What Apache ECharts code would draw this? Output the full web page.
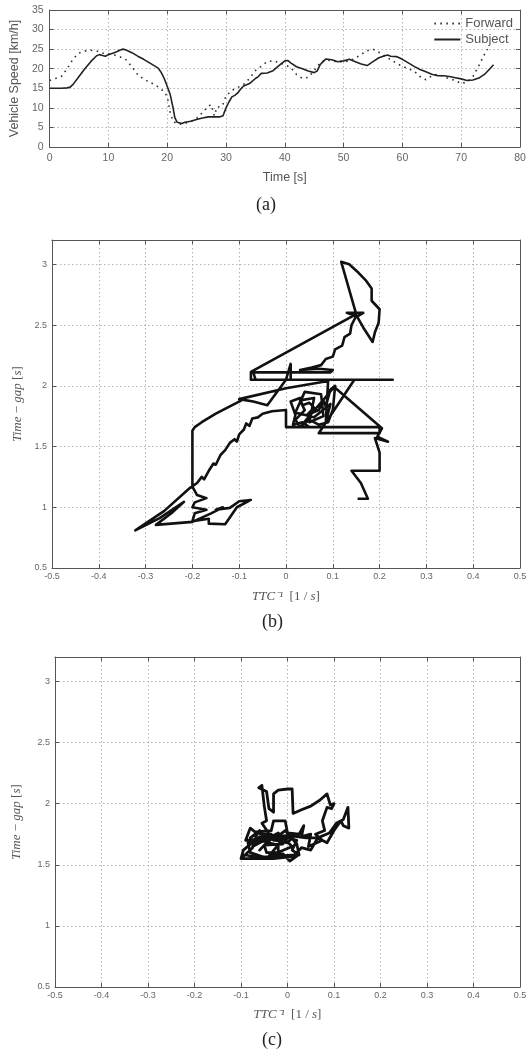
<!DOCTYPE html>
<html><head><meta charset="utf-8">
<script src="https://cdn.jsdelivr.net/npm/echarts@6/dist/echarts.min.js"></script>
<style>html,body{margin:0;padding:0;background:#fff}#c{width:531px;height:1057px}</style>
</head><body><div id="c"></div>
<script>
// ---------- DATA ----------
// (a) vehicle speed
var timeTicks = [0, 10, 20, 30, 40, 50, 60, 70, 80];
var speedTicks = [0, 5, 10, 15, 20, 25, 30, 35];
var timeSubject = [0,1,2,3,3.5,4,5,6,7,8,8.5,9,9.5,10,10.5,11,11.5,12,12.5,13,14,15,16,17,18,18.5,19,19.5,20,20.5,21,21.3,21.7,22,22.5,23,24,25,26,27,28,29,29.5,30,30.5,31,31.5,32,32.5,33,34,35,35.5,36,37,38,39,40,40.5,41,42,43,44,45,45.5,46,46.5,47,48,49,50,51,52,53,54,55,56,57,57.5,58,59,60,61,62,63,64,65,66,67,68,69,70,71,72,73,74,75,75.5];
var speedSubject = [15,15,15,15.1,15.3,16,18,20,21.8,23.3,23.6,23.4,23.2,23.6,23.8,24.1,24.4,24.8,25,24.8,24.1,23.2,22.4,21.5,20.6,20.1,19,17.5,15.5,13.5,10,7.5,6.3,6,6,6.3,6.6,7,7.4,7.7,7.7,7.7,8,10,11.5,12.8,13.2,13.8,14.8,15.6,16.2,17.5,18,18.8,18.9,19.5,20.8,22,22.1,21.5,20.5,20,19.4,19,19.4,21,21.8,22.5,22.3,21.8,22,22.4,21.8,21.2,20.8,21.8,22.8,23.3,23.5,23.2,23.1,22.4,21.5,20.6,19.8,19.2,18.6,18.2,18.2,18,17.7,17.4,17,17.1,17.6,18.6,20.2,21];
var timeForward = [0,1,2,3,4,5,6,7,8,9,10,11,12,13,14,15,16,17,18,19,20,20.5,21,22,23,24,25,26,27,27.5,28,28.5,29,29.5,30,31,32,33,34,35,36,37,38,39,40,41,42,43,44,45,46,47,48,49,50,51,52,53,54,55,56,57,58,59,60,61,62,63,64,65,66,67,68,69,70,71,72,73,74,74.5];
var speedForward = [17,17.5,18,20,22.5,24,24.5,24.7,24.5,24,23.8,23.5,23,22.3,20.5,18.5,17.3,16.6,15.8,14.8,13,9,6.5,5.8,6,6.5,7.3,8.8,10.5,10.8,8,10.3,10.2,11,13,14.5,15.2,16,17.5,19.5,20.6,21.8,22,21.6,21,20.3,18.5,17.5,17.8,19.5,21.5,22.3,22,21.8,21.8,22,22.7,23.7,24.6,25,24.2,23.3,22.3,21.4,20.6,20,19.4,18,17.2,18.2,18.6,18,17.4,17,16.2,16.6,18,20.8,23.8,25];

// (b), (c) inverse TTC vs time gap
var ttcTicks = [-0.5, -0.4, -0.3, -0.2, -0.1, 0, 0.1, 0.2, 0.3, 0.4, 0.5];
var gapTicks = [0.5, 1, 1.5, 2, 2.5, 3];
var gapTop = 3.2;

var ttcInvB = [
 -0.095,-0.12,-0.15,-0.18,-0.195,-0.2,-0.2,-0.2,
 -0.19,-0.17,-0.195,-0.2,-0.17,-0.195,-0.2,
 -0.165,-0.165,-0.13,-0.105,-0.075,-0.1,-0.12,-0.15,-0.135,-0.16,-0.2,
 -0.278,-0.245,-0.218,-0.27,-0.322,-0.26,-0.205,
 -0.19,-0.18,-0.175,-0.165,-0.155,-0.15,-0.14,-0.13,-0.12,-0.11,-0.105,-0.1,-0.09,-0.085,-0.078,-0.072,-0.06,-0.05,-0.03,0,
 0,0.05,0.035,0.015,0.02,0.01,0.03,0.035,0.05,0.06,0.045,0.07,0.08,0.085,0.095,0.105,0.1,0.09,0.07,0.05,0.03,
 0.02,0.04,0.03,0.06,0.05,0.08,0.075,0.04,0.02,0.06,0.095,0.085,
 0.09,0,-0.1,-0.07,-0.04,0,0.01,0.01,-0.075,-0.075,
 0.15,0.118,0.135,0.155,0.17,0.183,0.183,0.2,0.198,0.19,0.185,0.165,0.152,0.13,0.165,0.148,
 0.14,0.137,0.125,0.12,0.105,0.1,0.085,0.075,0.055,0.03,0.07,0.1,0.095,0.04,-0.07,-0.065,0.228,0.146,
 0.07,0.2,0.2,0.03,0.103,0.205,0.195,0.218,0.19,0.2,0.2,0.14,0.16,0.175,0.153
];
var timeGapB = [
 1.88,1.83,1.77,1.70,1.66,1.63,1.40,1.17,
 1.10,1.075,1.04,1.0,0.98,0.95,0.885,
 0.905,0.865,0.86,1.0,1.06,1.05,0.995,0.98,1.0,0.95,0.88,
 0.855,0.95,1.045,0.91,0.81,0.97,1.16,
 1.2,1.25,1.23,1.3,1.36,1.35,1.43,1.47,1.53,1.56,1.54,1.6,1.64,1.69,1.67,1.73,1.74,1.77,1.79,1.80,
 1.66,1.66,1.70,1.68,1.76,1.87,1.90,1.84,1.86,1.82,1.76,1.80,1.88,1.83,1.97,2.0,1.8,1.70,1.68,1.72,1.66,
 1.72,1.80,1.88,1.90,1.70,1.75,1.93,1.95,1.78,1.74,1.85,1.70,
 2.04,1.98,1.89,1.87,1.84,2.05,2.18,2.05,2.05,2.115,
 2.59,3.02,3.0,2.93,2.87,2.80,2.70,2.63,2.52,2.44,2.36,2.48,2.57,2.60,2.60,2.56,
 2.50,2.43,2.40,2.33,2.30,2.24,2.22,2.17,2.15,2.13,2.14,2.13,2.11,2.11,2.11,2.05,2.05,2.05,
 1.61,1.61,1.66,1.66,1.99,1.65,1.58,1.54,1.57,1.45,1.30,1.30,1.2,1.07,1.07
];

var ttcInvC = [
 -0.1,-0.07,-0.03,0.02,0.005,-0.01,-0.05,-0.08,-0.085,-0.07,-0.095,-0.1,
 -0.075,-0.065,-0.08,-0.06,-0.05,-0.035,-0.04,-0.02,-0.02,-0.045,-0.05,-0.01,0,0.02,0.01,0.025,0.02,-0.005,-0.025,-0.06,
 -0.07,-0.04,-0.06,-0.03,-0.065,-0.01,-0.04,0.01,-0.02,-0.075,-0.05,0.0,0.015,-0.03,
 -0.055,-0.045,-0.05,-0.055,-0.062,-0.045,-0.04,-0.03,-0.03,-0.02,0,0.01,0.012,0.03,0.05,0.07,0.085,0.092,0.1,0.095,0.085,0.075,0.08,0.06,0.075,0.045,0.05,0.03,0.035,0.025,0,-0.005,-0.03,-0.035,-0.07,-0.08,-0.09,-0.06,0,0.04,0.065,0.09,0.105,0.12,0.13,0.132,0.12,0.115,0.1,0.085,0.065,0.05,0.03,0.015,-0.02,-0.065,-0.09
];
var timeGapC = [
 1.55,1.55,1.55,1.57,1.53,1.59,1.56,1.60,1.68,1.70,1.62,1.55,
 1.64,1.76,1.72,1.78,1.74,1.75,1.68,1.66,1.60,1.60,1.66,1.67,1.72,1.70,1.62,1.58,1.67,1.78,1.72,1.73,
 1.68,1.70,1.62,1.74,1.76,1.71,1.57,1.65,1.76,1.65,1.72,1.68,1.74,1.70,
 1.84,1.86,1.98,2.15,2.13,2.10,1.96,1.93,2.08,2.11,2.12,2.12,1.92,1.95,1.98,2.03,2.08,1.99,2.0,1.96,1.97,1.86,1.78,1.75,1.70,1.65,1.75,1.73,1.82,1.75,1.76,1.86,1.86,1.78,1.77,1.80,1.70,1.71,1.74,1.72,1.72,1.76,1.84,1.87,1.97,1.80,1.82,1.86,1.78,1.68,1.72,1.62,1.64,1.58,1.57,1.56,1.58
];

// ---------- CHART ----------
function zip(a, b) { var n = Math.min(a.length, b.length), r = []; for (var i = 0; i < n; i++) r.push([a[i], b[i]]); return r; }
function fmt(v) { return String(Math.round(v * 10) / 10); }

var SANS = "'Liberation Sans', Arial, sans-serif";
var SERIF = "'Liberation Serif', 'Times New Roman', serif";
var AX = '#555', GRIDC = '#b4b4b4', LBL = '#666';

var grids = [
  { left: 44, top: 10, width: 476, height: 137 },
  { left: 52, top: 240, width: 468, height: 328 },
  { left: 55, top: 657, width: 465, height: 330 }
];

function baseAxis(gi, ticks, max, pos, withLabels, lblSize, lblMargin, name, nameGap, nameStyle) {
  var ax = {
    type: 'value', gridIndex: gi, position: pos,
    min: ticks[0], max: max, interval: ticks[1] - ticks[0],
    axisLine: { show: true, onZero: false, lineStyle: { color: AX, width: 1 } },
    axisTick: { show: true, inside: true, length: 4, lineStyle: { color: AX } },
    axisLabel: { show: withLabels, fontFamily: SANS, fontSize: lblSize, color: LBL, margin: lblMargin,
                 formatter: fmt, showMaxLabel: max === ticks[ticks.length - 1] },
    splitLine: { show: withLabels, lineStyle: { color: GRIDC, type: [1.5, 2.5], width: 1 } }
  };
  if (name) {
    ax.name = name; ax.nameLocation = 'middle'; ax.nameGap = nameGap; ax.nameTextStyle = nameStyle;
  }
  return ax;
}

var nameSansA = { fontFamily: SANS, fontSize: 12.5, color: '#555' };
var serifName = { fontFamily: SERIF, fontSize: 13, color: '#555',
  rich: { i: { fontFamily: SERIF, fontStyle: 'italic', fontSize: 13, color: '#555' } } };
var gapName = '{i|Time} − {i|gap} [{i|s}]';
var ttcName = '{i|TTC⁻¹}  [1 / {i|s}]';

var xAxes = [
  baseAxis(0, timeTicks, timeTicks[timeTicks.length - 1], 'bottom', true, 10.5, 6, 'Time [s]', 24, nameSansA),
  baseAxis(0, timeTicks, timeTicks[timeTicks.length - 1], 'top', false),
  baseAxis(1, ttcTicks, ttcTicks[ttcTicks.length - 1], 'bottom', true, 9, 4, ttcName, 22, serifName),
  baseAxis(1, ttcTicks, ttcTicks[ttcTicks.length - 1], 'top', false),
  baseAxis(2, ttcTicks, ttcTicks[ttcTicks.length - 1], 'bottom', true, 9, 4, ttcName, 21, serifName),
  baseAxis(2, ttcTicks, ttcTicks[ttcTicks.length - 1], 'top', false)
];
var yAxes = [
  baseAxis(0, speedTicks, speedTicks[speedTicks.length - 1], 'left', true, 10.5, 6, 'Vehicle Speed [km/h]', 26, nameSansA),
  baseAxis(0, speedTicks, speedTicks[speedTicks.length - 1], 'right', false),
  baseAxis(1, gapTicks, gapTop, 'left', true, 9, 5, gapName, 28, serifName),
  baseAxis(1, gapTicks, gapTop, 'right', false),
  baseAxis(2, gapTicks, gapTop, 'left', true, 9, 5, gapName, 32, serifName),
  baseAxis(2, gapTicks, gapTop, 'right', false)
];

var capStyle = { fontFamily: SERIF, fontSize: 18, fontWeight: 'normal', color: '#222' };

var option = {
  animation: false,
  backgroundColor: '#fff',
  grid: grids,
  xAxis: xAxes,
  yAxis: yAxes,
  title: [
    { text: '(a)', left: 256, top: 196, padding: 0, textStyle: capStyle },
    { text: '(b)', left: 262, top: 613, padding: 0, textStyle: capStyle },
    { text: '(c)', left: 262, top: 1031, padding: 0, textStyle: capStyle }
  ],
  legend: {
    orient: 'vertical', right: 13, top: 12, itemWidth: 26, itemHeight: 10, itemGap: 3,
    itemStyle: { opacity: 0 },
    textStyle: { fontFamily: SANS, fontSize: 13, color: '#555' },
    data: ['Forward', 'Subject']
  },
  series: [
    { name: 'Forward', type: 'line', xAxisIndex: 0, yAxisIndex: 0, data: zip(timeForward, speedForward),
      symbol: 'none', lineStyle: { color: '#333', width: 1.6, type: [1.6, 4.4] }, itemStyle: { color: '#333' } },
    { name: 'Subject', type: 'line', xAxisIndex: 0, yAxisIndex: 0, data: zip(timeSubject, speedSubject),
      symbol: 'none', lineStyle: { color: '#222', width: 1.6 }, itemStyle: { color: '#222' } },
    { name: 'b', type: 'line', xAxisIndex: 2, yAxisIndex: 2, data: zip(ttcInvB, timeGapB),
      symbol: 'none', lineStyle: { color: '#111', width: 2.6, join: 'round' }, itemStyle: { color: '#111' } },
    { name: 'c', type: 'line', xAxisIndex: 4, yAxisIndex: 4, data: zip(ttcInvC, timeGapC),
      symbol: 'none', lineStyle: { color: '#111', width: 2.8, join: 'round' }, itemStyle: { color: '#111' } }
  ]
};

var chart = echarts.init(document.getElementById('c'), null, { renderer: 'canvas' });
chart.setOption(option);
</script></body></html>
